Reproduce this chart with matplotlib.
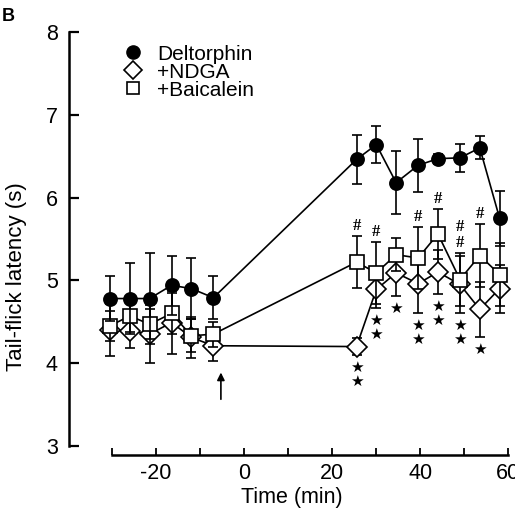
import matplotlib
matplotlib.use("Agg")
import matplotlib.pyplot as plt
from matplotlib.lines import Line2D
from matplotlib.ticker import MultipleLocator, FixedLocator

plt.rcParams['font.family'] = ['Liberation Sans', 'DejaVu Sans']

# --- data (time in min, latency in s) ---
time_min = [-30.5, -26, -21.5, -16.5, -12, -7, 25.5, 30, 34.5, 39.5, 44, 49, 53.5, 58]

deltorphin = [4.78, 4.78, 4.78, 4.94, 4.90, 4.79, 6.46, 6.64, 6.18, 6.39, 6.47, 6.48, 6.60, 5.75]
deltorphin_sem = [0.27, 0.43, 0.55, 0.36, 0.37, 0.26, 0.30, 0.22, 0.38, 0.32, 0.06, 0.17, 0.14, 0.33]

ndga = [4.40, 4.39, 4.35, 4.49, 4.31, 4.21, 4.20, 4.89, 5.09, 4.96, 5.10, 4.95, 4.65, 4.90]
ndga_sem = [0.31, 0.21, 0.35, 0.38, 0.25, 0.19, 0.10, 0.22, 0.28, 0.35, 0.27, 0.34, 0.33, 0.29]

baicalein = [4.45, 4.57, 4.47, 4.60, 4.33, 4.35, 5.22, 5.09, 5.31, 5.27, 5.56, 5.01, 5.30, 5.07]
baicalein_sem = [0.18, 0.20, 0.18, 0.25, 0.20, 0.15, 0.31, 0.37, 0.20, 0.37, 0.30, 0.32, 0.38, 0.38]

# significance marks: stars under NDGA, hashes over Baicalein
ndga_stars = [0, 0, 0, 0, 0, 0, 2, 2, 1, 2, 2, 2, 1, 0]
baicalein_hashes = [0, 0, 0, 0, 0, 0, 1, 1, 0, 1, 1, 2, 1, 0]

arrow_time = -5.3
arrow_span = (3.53, 3.92)

legend_labels = ['Deltorphin', '+NDGA', '+Baicalein']

# --- figure ---
fig = plt.figure(figsize=(5.15, 5.24), dpi=100)
ax = fig.add_axes([69 / 515, 69 / 524, 446 / 515, 435.4 / 524])

eb_kw = dict(color='k', lw=1.2, elinewidth=1.2, capsize=3.5, capthick=1.2, mew=1.2)
ax.errorbar(time_min, ndga, yerr=ndga_sem, fmt='-D', ms=10, mfc='white', mec='k', zorder=2, **eb_kw)
ax.errorbar(time_min, baicalein, yerr=baicalein_sem, fmt='-s', ms=10, mfc='white', mec='k', zorder=3, **eb_kw)
ax.errorbar(time_min, deltorphin, yerr=deltorphin_sem, fmt='-o', ms=9.5, mfc='k', mec='k', zorder=4, **eb_kw)

for t, v, e, n in zip(time_min, ndga, ndga_sem, ndga_stars):
    for k in range(n):
        ax.annotate('★', xy=(t, v - e), xytext=(0, -(9 + 10 * k)), textcoords='offset points',
                    ha='center', va='center', fontsize=11, family='DejaVu Sans')

for t, v, e, n in zip(time_min, baicalein, baicalein_sem, baicalein_hashes):
    for k in range(n):
        ax.annotate('#', xy=(t, v + e), xytext=(0, 7.5 + 11.5 * k), textcoords='offset points',
                    ha='center', va='center', fontsize=12, family='Liberation Serif', weight='bold')

ax.annotate('', xy=(arrow_time, arrow_span[1]), xytext=(arrow_time, arrow_span[0]),
            arrowprops=dict(arrowstyle='-|>', color='k', lw=1.2, mutation_scale=11))

# axes styling
ax.set_xlim(-39.8, 61.5)
ax.set_ylim(2.89, 8.15)
for s in ['top', 'right']:
    ax.spines[s].set_visible(False)
ax.spines['left'].set_bounds(3, 8)
ax.spines['bottom'].set_bounds(-30, 60)
ax.spines['left'].set_linewidth(1.8)
ax.spines['bottom'].set_linewidth(1.8)

ax.yaxis.set_major_locator(MultipleLocator(1))
ax.xaxis.set_major_locator(FixedLocator([-20, 0, 20, 40, 60]))
ax.xaxis.set_minor_locator(FixedLocator([-30, -10, 10, 30, 50]))
ax.set_xticklabels(['-20', '0', '20', '40', '60'])
ax.tick_params(axis='y', direction='in', length=7.5, width=1.6, labelsize=15.5, pad=8)
ax.tick_params(axis='x', which='both', direction='in', length=5, width=1.3, labelsize=15.5, pad=6)

ax.set_xlabel('Time (min)', fontsize=15.5, labelpad=2)
ax.set_ylabel('Tail-flick latency (s)', fontsize=16)
ax.yaxis.set_label_coords(-0.094, 0.409)

handles = [
    Line2D([], [], ls='none', marker='o', ms=9.5, mfc='k', mec='k'),
    Line2D([], [], ls='none', marker='D', ms=9, mfc='white', mec='k', mew=1.2),
    Line2D([], [], ls='none', marker='s', ms=9, mfc='white', mec='k', mew=1.2),
]
ax.legend(handles, legend_labels, loc='upper left', bbox_to_anchor=(0.088, 0.976), frameon=False,
          fontsize=15, handlelength=1.0, handletextpad=0.65, labelspacing=-0.05, borderpad=0.2)

fig.text(0.004, 0.985, 'B', fontsize=13, weight='bold', va='top', ha='left')

fig.savefig('out.png', dpi=100)
